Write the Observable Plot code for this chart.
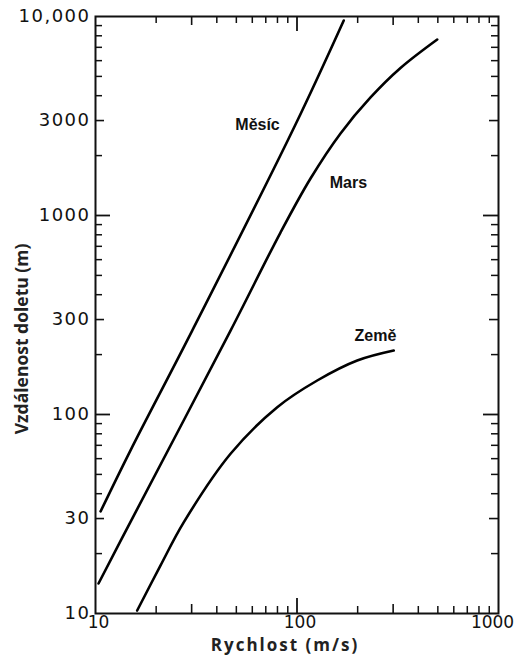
<!DOCTYPE html>
<html>
<head>
<meta charset="utf-8">
<script src="https://cdn.jsdelivr.net/npm/d3@7"></script>
<script src="https://cdn.jsdelivr.net/npm/@observablehq/plot@0.6"></script>
<style>
  html, body { margin: 0; padding: 0; background: #fff; }
  #chart svg { display: block; }
</style>
</head>
<body>
<div id="chart"></div>
<script>
// Series (speed m/s, range m)
const moonV = [10.6, 14.9, 30.2, 98.3, 170.6];
const moonR = [32.6, 65.9, 264, 2865, 9550];
const marsV = [10.35, 14.9, 46.8, 82.8, 116.7, 164.4, 231.7, 326.3, 496.5];
const marsR = [14.15, 28.8, 264, 821, 1534, 2584, 3918, 5510, 7662];
const earthV = [16.1, 21.0, 27.4, 46.8, 79.8, 126, 199, 302];
const earthR = [10.35, 17.4, 28.7, 63.5, 108.8, 148.2, 186.8, 209.7];

// Curve labels
const curveNames = ["Měsíc", "Mars", "Země"];
const labelV = [63.7, 180, 245];
const labelR = [2866, 1466, 249];

// Tick labels
const xTickValues = [10, 30, 100, 300, 1000];
const xTickLabels = ["10", "30", "100", "300", "1000"];
const yTickValues = [10, 30, 100, 300, 1000, 3000, 10000];
const yTickLabels = ["10", "30", "100", "300", "1000", "3000", "10,000"];

// Tick mark groups
const decadeTicks = [100, 1000];
const halfTicks = [30, 300, 3000];
const minorTicks = [20, 40, 50, 60, 70, 80, 90, 200, 400, 500, 600, 700, 800, 900, 2000, 4000, 5000, 6000, 7000, 8000, 9000];

const xTitle = "Rychlost (m/s)";
const yTitle = "Vzdálenost doletu (m)";

const W = 520, H = 656;
const mL = 95, mR = 22, mT = 16, mB = 43;
const frameW = W - mL - mR, frameH = H - mT - mB;

const toRows = (V, R, name) => V.map((v, i) => ({v, r: R[i], name}));
const lines = [
  ...toRows(moonV, moonR, "Měsíc"),
  ...toRows(marsV, marsR, "Mars"),
  ...toRows(earthV, earthR, "Země")
];
const labels = curveNames.map((n, i) => ({name: n, v: labelV[i], r: labelR[i]}));

const xIn = (vals) => vals.filter(d => d > 10 && d < 1000);
const yIn = (vals) => vals.filter(d => d > 10 && d < 10000);
const tickColor = "#111";
const xLabel = d => xTickLabels[xTickValues.indexOf(d)];

// Inward ticks on all four frame edges (rules inset so only a short stub remains)
function tickMarks(vals, len, sw) {
  const s = {stroke: tickColor, strokeWidth: sw};
  return [
    Plot.ruleX(xIn(vals), {x: d => d, insetTop: frameH - len, ...s}),
    Plot.ruleX(xIn(vals), {x: d => d, insetBottom: frameH - len, ...s}),
    Plot.ruleY(yIn(vals), {y: d => d, insetRight: frameW - len, ...s}),
    Plot.ruleY(yIn(vals), {y: d => d, insetLeft: frameW - len, ...s})
  ];
}

const xLabelStyle = {anchor: "bottom", tickSize: 0, tickPadding: 2, label: null, tickFormat: xLabel, fontSize: 17, fill: "#111"};

const chart = Plot.plot({
  width: W,
  height: H,
  marginLeft: mL,
  marginRight: mR,
  marginTop: mT,
  marginBottom: mB,
  style: {fontFamily: "DejaVu Sans", color: "#111", background: "#fff"},
  x: {type: "log", domain: [10, 1000]},
  y: {type: "log", domain: [10, 10000]},
  marks: [
    ...tickMarks(minorTicks, 7, 1.5),
    ...tickMarks(halfTicks, 9, 1.6),
    ...tickMarks(decadeTicks, 15, 1.8),
    Plot.axisX(xTickValues.slice(0, -1), {...xLabelStyle, dx: 3}),
    Plot.axisX(xTickValues.slice(-1), {...xLabelStyle, dx: -6}),
    Plot.axisY(yTickValues, {anchor: "left", tickSize: 0, tickPadding: 5, label: null,
      tickFormat: d => yTickLabels[yTickValues.indexOf(d)], fontSize: 18, fill: "#111"}),
    Plot.frame({stroke: "#111", strokeWidth: 2}),
    Plot.line(lines, {x: "v", y: "r", z: "name", curve: "catmull-rom", stroke: "#000", strokeWidth: 2.6}),
    Plot.text(labels, {x: "v", y: "r", text: "name", fontFamily: "Liberation Sans", fontWeight: "bold", fontSize: 16, fill: "#111"}),
    Plot.text([xTitle], {text: d => d, frameAnchor: "bottom", dx: -12, dy: 32, lineAnchor: "middle", textAnchor: "middle",
      fontFamily: "Open Sans", fontWeight: "bold", fontSize: 17, fill: "#222"}),
    Plot.text([yTitle], {text: d => d, frameAnchor: "left", dx: -73, dy: 24, rotate: -90, lineAnchor: "middle", textAnchor: "middle",
      fontFamily: "Open Sans", fontWeight: "bold", fontSize: 17.5, fill: "#222"})
  ]
});

// Wider glyph spacing, like the reference's typeface
const sel = d3.select(chart);
sel.selectAll('g[aria-label="y-axis tick label"] text').style("letter-spacing", "1.5px");
sel.selectAll("text").filter(function () { return this.textContent === xTitle; }).style("letter-spacing", "2px");

document.getElementById("chart").appendChild(chart);
</script>
</body>
</html>
